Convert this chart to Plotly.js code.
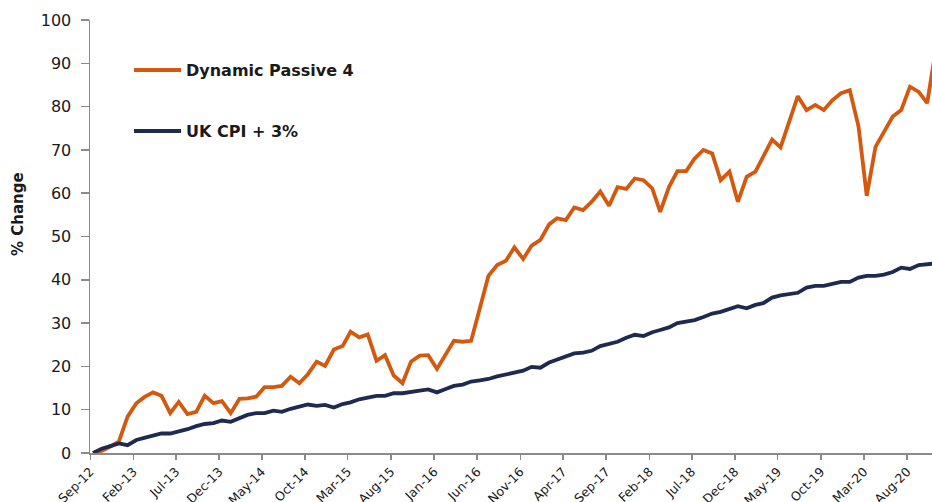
<!DOCTYPE html>
<html>
<head>
<meta charset="utf-8">
<script src="https://cdn.plot.ly/plotly-3.0.1.min.js"></script>
<style>
  html, body { margin: 0; padding: 0; background: #ffffff; }
  #chart { width: 932px; height: 502px; }
</style>
</head>
<body>
<div id="chart"></div>
<script>
const months = [
  "2012-09-01","2012-10-01","2012-11-01","2012-12-01",
  "2013-01-01","2013-02-01","2013-03-01","2013-04-01","2013-05-01","2013-06-01","2013-07-01","2013-08-01","2013-09-01","2013-10-01","2013-11-01","2013-12-01",
  "2014-01-01","2014-02-01","2014-03-01","2014-04-01","2014-05-01","2014-06-01","2014-07-01","2014-08-01","2014-09-01","2014-10-01","2014-11-01","2014-12-01",
  "2015-01-01","2015-02-01","2015-03-01","2015-04-01","2015-05-01","2015-06-01","2015-07-01","2015-08-01","2015-09-01","2015-10-01","2015-11-01","2015-12-01",
  "2016-01-01","2016-02-01","2016-03-01","2016-04-01","2016-05-01","2016-06-01","2016-07-01","2016-08-01","2016-09-01","2016-10-01","2016-11-01","2016-12-01",
  "2017-01-01","2017-02-01","2017-03-01","2017-04-01","2017-05-01","2017-06-01","2017-07-01","2017-08-01","2017-09-01","2017-10-01","2017-11-01","2017-12-01",
  "2018-01-01","2018-02-01","2018-03-01","2018-04-01","2018-05-01","2018-06-01","2018-07-01","2018-08-01","2018-09-01","2018-10-01","2018-11-01","2018-12-01",
  "2019-01-01","2019-02-01","2019-03-01","2019-04-01","2019-05-01","2019-06-01","2019-07-01","2019-08-01","2019-09-01","2019-10-01","2019-11-01","2019-12-01",
  "2020-01-01","2020-02-01","2020-03-01","2020-04-01","2020-05-01","2020-06-01","2020-07-01","2020-08-01","2020-09-01","2020-10-01","2020-11-01"
];

const dynamicPassive4 = [
  0, 0.5, 1.5, 2.6,
  8.4, 11.5, 12.9, 14.0, 13.2, 9.2, 11.8, 9.0, 9.5, 13.2, 11.5, 12.0,
  9.2, 12.5, 12.6, 13.0, 15.2, 15.2, 15.5, 17.6, 16.1, 18.2, 21.1, 20.1,
  23.9, 24.7, 28.0, 26.7, 27.4, 21.3, 22.6, 17.9, 16.1, 21.1, 22.5, 22.6,
  19.4, 22.9, 25.9, 25.7, 25.9, 33.5, 40.9, 43.4, 44.4, 47.5, 44.8, 47.9,
  49.2, 52.8, 54.2, 53.8, 56.7, 56.1, 58.0, 60.4, 57.1, 61.4, 61.0, 63.4,
  63.0, 61.1, 55.7, 61.4, 65.1, 65.1, 68.0, 70.0, 69.2, 63.0, 65.0, 58.0,
  63.8, 65.0, 68.6, 72.4, 70.6, 76.5, 82.4, 79.2, 80.4, 79.2, 81.5, 83.1,
  83.8, 75.4, 59.4, 70.7, 74.2, 77.7, 79.2, 84.6, 83.4, 80.8, 93.5
];

const ukCpiPlus3 = [
  0, 1.0, 1.6, 2.2,
  1.8, 3.0, 3.5, 3.9, 4.5, 4.5, 4.9, 5.5, 6.2, 6.7, 6.9, 7.5,
  7.2, 8.0, 8.8, 9.2, 9.2, 9.8, 9.5, 10.2, 10.8, 11.2, 10.9, 11.1,
  10.5, 11.3, 11.7, 12.4, 12.8, 13.2, 13.2, 13.8, 13.8, 14.0, 14.4, 14.7,
  14.0, 14.8, 15.5, 15.8, 16.5, 16.8, 17.1, 17.7, 18.2, 18.6, 19.0, 19.9,
  19.7, 20.9, 21.6, 22.4, 23.0, 23.2, 23.6, 24.7, 25.3, 25.7, 26.6, 27.3,
  27.0, 27.9, 28.4, 29.0, 30.0, 30.3, 30.7, 31.4, 32.2, 32.6, 33.2, 33.9,
  33.4, 34.2, 34.6, 35.9, 36.4, 36.7, 37.0, 38.2, 38.6, 38.6, 39.1, 39.5,
  39.5, 40.5, 40.9, 40.9, 41.2, 41.8, 42.8, 42.5, 43.4, 43.7, 43.8
];

const tickMonths = [
  "2012-09-01","2013-02-01","2013-07-01","2013-12-01","2014-05-01","2014-10-01","2015-03-01",
  "2015-08-01","2016-01-01","2016-06-01","2016-11-01","2017-04-01","2017-09-01","2018-02-01",
  "2018-07-01","2018-12-01","2019-05-01","2019-10-01","2020-03-01","2020-08-01"
];
const tickLabels = [
  "Sep-12","Feb-13","Jul-13","Dec-13","May-14","Oct-14","Mar-15","Aug-15","Jan-16","Jun-16",
  "Nov-16","Apr-17","Sep-17","Feb-18","Jul-18","Dec-18","May-19","Oct-19","Mar-20","Aug-20"
];

const seriesNames = ["Dynamic Passive 4", "UK CPI + 3%"];
const yTitle = "% Change";

const orange = "#D4590F";
const navy = "#1F2A50";
const FONT = "DejaVu Sans, Open Sans, sans-serif";
const TXT = "#1a1a1a";

// tick marks sit a little before the first-of-month points, as in the source chart
function shiftDays(d, days) {
  const t = new Date(d + "T00:00:00Z");
  t.setUTCDate(t.getUTCDate() + days);
  return t.toISOString().slice(0, 10);
}
const tickPositions = tickMonths.map(d => shiftDays(d, -10));

const traces = [
  { x: months, y: dynamicPassive4, name: seriesNames[0], type: "scatter", mode: "lines",
    line: { color: orange, width: 3.8, shape: "linear" }, showlegend: false },
  { x: months, y: ukCpiPlus3, name: seriesNames[1], type: "scatter", mode: "lines",
    line: { color: navy, width: 3.8, shape: "linear" }, showlegend: false }
];

// legend / title placed in paper coordinates
const W = 842, H = 433;
function px(x) { return (x - 90) / W; }
function py(y) { return (453 - y) / H; }

const layout = {
  width: 932, height: 502,
  margin: { l: 90, r: 0, t: 20, b: 49 },
  paper_bgcolor: "#ffffff", plot_bgcolor: "#ffffff",
  font: { family: FONT, color: TXT },
  showlegend: false,
  xaxis: {
    type: "date",
    range: ["2012-08-21", "2020-10-18"],
    tickmode: "array", tickvals: tickPositions, ticktext: tickLabels,
    tickangle: -45,
    ticks: "outside", ticklen: 5, tickcolor: "#8a8a8a", tickwidth: 1.5,
    showline: true, linecolor: "#8a8a8a", linewidth: 1.5,
    showgrid: false, zeroline: false,
    tickfont: { family: FONT, size: 12.5, color: TXT }
  },
  yaxis: {
    range: [0, 100],
    tick0: 0, dtick: 10,
    ticks: "outside", ticklen: 8, tickcolor: "#8a8a8a", tickwidth: 1.5,
    ticklabelstandoff: 6,
    showline: true, linecolor: "#8a8a8a", linewidth: 1.5,
    showgrid: false, zeroline: false,
    tickfont: { family: FONT, size: 16, color: TXT }
  },
  shapes: [
    { type: "line", xref: "paper", yref: "paper", x0: px(134), x1: px(181), y0: py(70), y1: py(70),
      line: { color: orange, width: 4 } },
    { type: "line", xref: "paper", yref: "paper", x0: px(134), x1: px(181), y0: py(131), y1: py(131),
      line: { color: navy, width: 4 } }
  ],
  annotations: [
    { xref: "paper", yref: "paper", x: px(184), y: py(70), xanchor: "left", yanchor: "middle",
      text: "<b>" + seriesNames[0] + "</b>", showarrow: false, font: { family: FONT, size: 16, color: TXT } },
    { xref: "paper", yref: "paper", x: px(184), y: py(131), xanchor: "left", yanchor: "middle",
      text: "<b>" + seriesNames[1] + "</b>", showarrow: false, font: { family: FONT, size: 16, color: TXT } },
    { xref: "paper", yref: "paper", x: px(18), y: py(214), xanchor: "center", yanchor: "middle",
      textangle: -90, text: "<b>" + yTitle + "</b>", showarrow: false,
      font: { family: FONT, size: 15, color: TXT } }
  ]
};

Plotly.newPlot("chart", traces, layout, { displayModeBar: false, staticPlot: true });
</script>
</body>
</html>
